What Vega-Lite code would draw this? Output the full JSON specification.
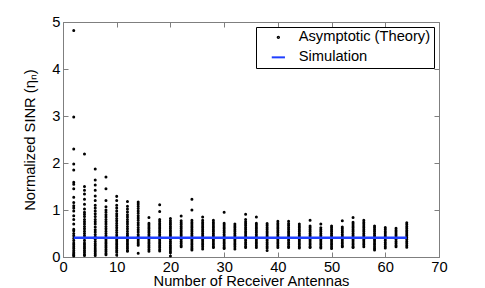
{
"$schema": "https://vega.github.io/schema/vega-lite/v6.json",
"width": 376, "height": 235,
"autosize": {"type": "none"},
"padding": {"left": 63, "top": 22, "right": 46, "bottom": 31},
"background": "white",
"config": {
 "font": "Liberation Sans",
 "view": {"stroke": "#7f7f7f", "strokeWidth": 1},
 "axis": {"grid": false, "domainColor": "#7f7f7f", "tickColor": "#7f7f7f", "tickSize": -5, "labelPadding": 8, "labelFontSize": 14.7, "labelColor": "black", "titleFontSize": 14.7, "titleFontWeight": "normal", "titleColor": "black", "labelFlush": false, "labelOverlap": false}
},
"datasets": {
 "theory": [
  {"n":2,"s":4.82},{"n":2,"s":2.98},{"n":2,"s":2.30},{"n":2,"s":1.98},{"n":2,"s":1.85},{"n":2,"s":1.59},{"n":2,"s":1.55},{"n":2,"s":1.45},{"n":2,"s":1.27},{"n":2,"s":1.16},{"n":2,"s":1.09},{"n":2,"s":1.04},{"n":2,"s":0.98},{"n":2,"s":0.88},{"n":2,"s":0.80},{"n":2,"s":0.70},{"n":2,"s":0.59},{"n":2,"s":0.56},{"n":2,"s":0.50},{"n":2,"s":0.45},{"n":2,"s":0.40},{"n":2,"s":0.35},{"n":2,"s":0.30},{"n":2,"s":0.26},{"n":2,"s":0.22},{"n":2,"s":0.18},{"n":2,"s":0.14},{"n":2,"s":0.10},{"n":2,"s":0.07},{"n":2,"s":0.04},{"n":2,"s":0.02},
  {"n":4,"s":2.19},{"n":4,"s":1.50},{"n":4,"s":1.42},{"n":4,"s":1.34},{"n":4,"s":1.23},{"n":4,"s":1.12},{"n":4,"s":1.02},{"n":4,"s":0.95},{"n":4,"s":0.91},{"n":4,"s":0.86},{"n":4,"s":0.80},{"n":4,"s":0.75},{"n":4,"s":0.70},{"n":4,"s":0.65},{"n":4,"s":0.60},{"n":4,"s":0.55},{"n":4,"s":0.50},{"n":4,"s":0.45},{"n":4,"s":0.40},{"n":4,"s":0.35},{"n":4,"s":0.30},{"n":4,"s":0.26},{"n":4,"s":0.22},{"n":4,"s":0.18},{"n":4,"s":0.14},{"n":4,"s":0.10},{"n":4,"s":0.06},{"n":4,"s":0.03},
  {"n":6,"s":1.87},{"n":6,"s":1.64},{"n":6,"s":1.53},{"n":6,"s":1.42},{"n":6,"s":1.30},{"n":6,"s":1.20},{"n":6,"s":1.10},{"n":6,"s":1.04},{"n":6,"s":0.98},{"n":6,"s":0.92},{"n":6,"s":0.86},{"n":6,"s":0.80},{"n":6,"s":0.75},{"n":6,"s":0.70},{"n":6,"s":0.64},{"n":6,"s":0.58},{"n":6,"s":0.53},{"n":6,"s":0.48},{"n":6,"s":0.43},{"n":6,"s":0.38},{"n":6,"s":0.33},{"n":6,"s":0.28},{"n":6,"s":0.24},{"n":6,"s":0.19},{"n":6,"s":0.15},{"n":6,"s":0.11},{"n":6,"s":0.07},{"n":6,"s":0.03},
  {"n":8,"s":1.70},{"n":8,"s":1.45},{"n":8,"s":1.20},{"n":8,"s":1.07},{"n":8,"s":1.00},{"n":8,"s":0.95},{"n":8,"s":0.90},{"n":8,"s":0.85},{"n":8,"s":0.80},{"n":8,"s":0.75},{"n":8,"s":0.70},{"n":8,"s":0.65},{"n":8,"s":0.60},{"n":8,"s":0.55},{"n":8,"s":0.50},{"n":8,"s":0.45},{"n":8,"s":0.40},{"n":8,"s":0.36},{"n":8,"s":0.32},{"n":8,"s":0.28},{"n":8,"s":0.24},{"n":8,"s":0.20},{"n":8,"s":0.16},{"n":8,"s":0.12},{"n":8,"s":0.08},{"n":8,"s":0.05},
  {"n":10,"s":1.29},{"n":10,"s":1.20},{"n":10,"s":1.10},{"n":10,"s":1.04},{"n":10,"s":0.98},{"n":10,"s":0.92},{"n":10,"s":0.87},{"n":10,"s":0.82},{"n":10,"s":0.77},{"n":10,"s":0.72},{"n":10,"s":0.67},{"n":10,"s":0.62},{"n":10,"s":0.57},{"n":10,"s":0.52},{"n":10,"s":0.47},{"n":10,"s":0.42},{"n":10,"s":0.38},{"n":10,"s":0.34},{"n":10,"s":0.30},{"n":10,"s":0.26},{"n":10,"s":0.22},{"n":10,"s":0.18},{"n":10,"s":0.14},{"n":10,"s":0.10},{"n":10,"s":0.04},
  {"n":12,"s":1.18},{"n":12,"s":1.08},{"n":12,"s":1.02},{"n":12,"s":0.96},{"n":12,"s":0.90},{"n":12,"s":0.85},{"n":12,"s":0.80},{"n":12,"s":0.75},{"n":12,"s":0.70},{"n":12,"s":0.65},{"n":12,"s":0.60},{"n":12,"s":0.55},{"n":12,"s":0.50},{"n":12,"s":0.46},{"n":12,"s":0.42},{"n":12,"s":0.38},{"n":12,"s":0.34},{"n":12,"s":0.30},{"n":12,"s":0.26},{"n":12,"s":0.22},{"n":12,"s":0.18},{"n":12,"s":0.14},{"n":12,"s":0.12},
  {"n":14,"s":1.17},{"n":14,"s":1.13},{"n":14,"s":1.08},{"n":14,"s":1.03},{"n":14,"s":0.98},{"n":14,"s":0.93},{"n":14,"s":0.88},{"n":14,"s":0.83},{"n":14,"s":0.78},{"n":14,"s":0.73},{"n":14,"s":0.68},{"n":14,"s":0.63},{"n":14,"s":0.58},{"n":14,"s":0.53},{"n":14,"s":0.48},{"n":14,"s":0.44},{"n":14,"s":0.40},{"n":14,"s":0.36},{"n":14,"s":0.32},{"n":14,"s":0.28},{"n":14,"s":0.25},{"n":14,"s":0.08},
  {"n":16,"s":0.84},{"n":16,"s":0.72},{"n":16,"s":0.68},{"n":16,"s":0.64},{"n":16,"s":0.60},{"n":16,"s":0.56},{"n":16,"s":0.52},{"n":16,"s":0.48},{"n":16,"s":0.44},{"n":16,"s":0.40},{"n":16,"s":0.36},{"n":16,"s":0.32},{"n":16,"s":0.28},{"n":16,"s":0.24},{"n":16,"s":0.20},{"n":16,"s":0.16},{"n":16,"s":0.12},
  {"n":18,"s":1.11},{"n":18,"s":0.97},{"n":18,"s":0.80},{"n":18,"s":0.76},{"n":18,"s":0.72},{"n":18,"s":0.68},{"n":18,"s":0.64},{"n":18,"s":0.60},{"n":18,"s":0.56},{"n":18,"s":0.52},{"n":18,"s":0.48},{"n":18,"s":0.44},{"n":18,"s":0.40},{"n":18,"s":0.36},{"n":18,"s":0.32},{"n":18,"s":0.28},{"n":18,"s":0.24},{"n":18,"s":0.20},{"n":18,"s":0.16},{"n":18,"s":0.13},
  {"n":20,"s":0.82},{"n":20,"s":0.77},{"n":20,"s":0.73},{"n":20,"s":0.69},{"n":20,"s":0.65},{"n":20,"s":0.61},{"n":20,"s":0.57},{"n":20,"s":0.53},{"n":20,"s":0.49},{"n":20,"s":0.45},{"n":20,"s":0.41},{"n":20,"s":0.37},{"n":20,"s":0.33},{"n":20,"s":0.29},{"n":20,"s":0.25},{"n":20,"s":0.21},{"n":20,"s":0.17},{"n":20,"s":0.13},{"n":20,"s":0.09},{"n":20,"s":0.02},
  {"n":22,"s":0.87},{"n":22,"s":0.77},{"n":22,"s":0.73},{"n":22,"s":0.69},{"n":22,"s":0.65},{"n":22,"s":0.61},{"n":22,"s":0.57},{"n":22,"s":0.53},{"n":22,"s":0.49},{"n":22,"s":0.45},{"n":22,"s":0.41},{"n":22,"s":0.37},{"n":22,"s":0.33},{"n":22,"s":0.29},{"n":22,"s":0.25},{"n":22,"s":0.22},
  {"n":24,"s":1.23},{"n":24,"s":1.00},{"n":24,"s":0.78},{"n":24,"s":0.74},{"n":24,"s":0.70},{"n":24,"s":0.66},{"n":24,"s":0.62},{"n":24,"s":0.58},{"n":24,"s":0.54},{"n":24,"s":0.50},{"n":24,"s":0.46},{"n":24,"s":0.42},{"n":24,"s":0.38},{"n":24,"s":0.34},{"n":24,"s":0.30},{"n":24,"s":0.26},{"n":24,"s":0.22},{"n":24,"s":0.18},{"n":24,"s":0.15},
  {"n":26,"s":0.85},{"n":26,"s":0.78},{"n":26,"s":0.74},{"n":26,"s":0.70},{"n":26,"s":0.66},{"n":26,"s":0.62},{"n":26,"s":0.58},{"n":26,"s":0.54},{"n":26,"s":0.50},{"n":26,"s":0.46},{"n":26,"s":0.42},{"n":26,"s":0.38},{"n":26,"s":0.34},{"n":26,"s":0.30},{"n":26,"s":0.26},{"n":26,"s":0.22},{"n":26,"s":0.17},
  {"n":28,"s":0.78},{"n":28,"s":0.74},{"n":28,"s":0.70},{"n":28,"s":0.66},{"n":28,"s":0.62},{"n":28,"s":0.58},{"n":28,"s":0.54},{"n":28,"s":0.50},{"n":28,"s":0.46},{"n":28,"s":0.42},{"n":28,"s":0.38},{"n":28,"s":0.34},{"n":28,"s":0.30},{"n":28,"s":0.26},{"n":28,"s":0.22},{"n":28,"s":0.20},
  {"n":30,"s":0.95},{"n":30,"s":0.72},{"n":30,"s":0.68},{"n":30,"s":0.64},{"n":30,"s":0.60},{"n":30,"s":0.56},{"n":30,"s":0.52},{"n":30,"s":0.48},{"n":30,"s":0.44},{"n":30,"s":0.40},{"n":30,"s":0.36},{"n":30,"s":0.32},{"n":30,"s":0.28},{"n":30,"s":0.24},{"n":30,"s":0.20},{"n":30,"s":0.18},
  {"n":32,"s":0.70},{"n":32,"s":0.66},{"n":32,"s":0.62},{"n":32,"s":0.58},{"n":32,"s":0.54},{"n":32,"s":0.50},{"n":32,"s":0.46},{"n":32,"s":0.42},{"n":32,"s":0.38},{"n":32,"s":0.34},{"n":32,"s":0.30},{"n":32,"s":0.26},{"n":32,"s":0.22},{"n":32,"s":0.17},
  {"n":34,"s":0.91},{"n":34,"s":0.80},{"n":34,"s":0.75},{"n":34,"s":0.71},{"n":34,"s":0.67},{"n":34,"s":0.63},{"n":34,"s":0.59},{"n":34,"s":0.55},{"n":34,"s":0.51},{"n":34,"s":0.47},{"n":34,"s":0.43},{"n":34,"s":0.39},{"n":34,"s":0.35},{"n":34,"s":0.31},{"n":34,"s":0.27},{"n":34,"s":0.23},{"n":34,"s":0.20},
  {"n":36,"s":0.85},{"n":36,"s":0.72},{"n":36,"s":0.68},{"n":36,"s":0.64},{"n":36,"s":0.60},{"n":36,"s":0.56},{"n":36,"s":0.52},{"n":36,"s":0.48},{"n":36,"s":0.44},{"n":36,"s":0.40},{"n":36,"s":0.36},{"n":36,"s":0.32},{"n":36,"s":0.28},{"n":36,"s":0.24},{"n":36,"s":0.20},
  {"n":38,"s":0.71},{"n":38,"s":0.67},{"n":38,"s":0.63},{"n":38,"s":0.59},{"n":38,"s":0.55},{"n":38,"s":0.51},{"n":38,"s":0.47},{"n":38,"s":0.43},{"n":38,"s":0.39},{"n":38,"s":0.35},{"n":38,"s":0.31},{"n":38,"s":0.27},{"n":38,"s":0.23},{"n":38,"s":0.19},{"n":38,"s":0.14},
  {"n":40,"s":0.76},{"n":40,"s":0.72},{"n":40,"s":0.68},{"n":40,"s":0.64},{"n":40,"s":0.60},{"n":40,"s":0.56},{"n":40,"s":0.52},{"n":40,"s":0.48},{"n":40,"s":0.44},{"n":40,"s":0.40},{"n":40,"s":0.36},{"n":40,"s":0.32},{"n":40,"s":0.28},{"n":40,"s":0.24},{"n":40,"s":0.20},
  {"n":42,"s":0.76},{"n":42,"s":0.71},{"n":42,"s":0.67},{"n":42,"s":0.63},{"n":42,"s":0.59},{"n":42,"s":0.55},{"n":42,"s":0.51},{"n":42,"s":0.47},{"n":42,"s":0.43},{"n":42,"s":0.39},{"n":42,"s":0.35},{"n":42,"s":0.31},{"n":42,"s":0.27},{"n":42,"s":0.23},{"n":42,"s":0.20},
  {"n":44,"s":0.70},{"n":44,"s":0.66},{"n":44,"s":0.62},{"n":44,"s":0.58},{"n":44,"s":0.54},{"n":44,"s":0.50},{"n":44,"s":0.46},{"n":44,"s":0.42},{"n":44,"s":0.38},{"n":44,"s":0.34},{"n":44,"s":0.30},{"n":44,"s":0.26},{"n":44,"s":0.22},{"n":44,"s":0.19},
  {"n":46,"s":0.78},{"n":46,"s":0.66},{"n":46,"s":0.62},{"n":46,"s":0.58},{"n":46,"s":0.54},{"n":46,"s":0.50},{"n":46,"s":0.46},{"n":46,"s":0.42},{"n":46,"s":0.38},{"n":46,"s":0.34},{"n":46,"s":0.30},{"n":46,"s":0.26},{"n":46,"s":0.22},{"n":46,"s":0.20},
  {"n":48,"s":0.70},{"n":48,"s":0.62},{"n":48,"s":0.58},{"n":48,"s":0.54},{"n":48,"s":0.50},{"n":48,"s":0.46},{"n":48,"s":0.42},{"n":48,"s":0.38},{"n":48,"s":0.34},{"n":48,"s":0.30},{"n":48,"s":0.26},{"n":48,"s":0.22},{"n":48,"s":0.19},
  {"n":50,"s":0.66},{"n":50,"s":0.62},{"n":50,"s":0.58},{"n":50,"s":0.54},{"n":50,"s":0.50},{"n":50,"s":0.46},{"n":50,"s":0.42},{"n":50,"s":0.38},{"n":50,"s":0.34},{"n":50,"s":0.30},{"n":50,"s":0.26},{"n":50,"s":0.22},{"n":50,"s":0.18},
  {"n":52,"s":0.77},{"n":52,"s":0.64},{"n":52,"s":0.60},{"n":52,"s":0.56},{"n":52,"s":0.52},{"n":52,"s":0.48},{"n":52,"s":0.44},{"n":52,"s":0.40},{"n":52,"s":0.36},{"n":52,"s":0.32},{"n":52,"s":0.28},{"n":52,"s":0.24},{"n":52,"s":0.22},
  {"n":54,"s":0.84},{"n":54,"s":0.74},{"n":54,"s":0.70},{"n":54,"s":0.66},{"n":54,"s":0.62},{"n":54,"s":0.58},{"n":54,"s":0.54},{"n":54,"s":0.50},{"n":54,"s":0.46},{"n":54,"s":0.42},{"n":54,"s":0.38},{"n":54,"s":0.34},{"n":54,"s":0.30},{"n":54,"s":0.26},{"n":54,"s":0.22},{"n":54,"s":0.20},
  {"n":56,"s":0.78},{"n":56,"s":0.74},{"n":56,"s":0.70},{"n":56,"s":0.66},{"n":56,"s":0.62},{"n":56,"s":0.58},{"n":56,"s":0.54},{"n":56,"s":0.50},{"n":56,"s":0.46},{"n":56,"s":0.42},{"n":56,"s":0.38},{"n":56,"s":0.34},{"n":56,"s":0.30},{"n":56,"s":0.26},{"n":56,"s":0.22},
  {"n":58,"s":0.66},{"n":58,"s":0.62},{"n":58,"s":0.58},{"n":58,"s":0.54},{"n":58,"s":0.50},{"n":58,"s":0.46},{"n":58,"s":0.42},{"n":58,"s":0.38},{"n":58,"s":0.34},{"n":58,"s":0.30},{"n":58,"s":0.26},{"n":58,"s":0.22},{"n":58,"s":0.18},{"n":58,"s":0.15},
  {"n":60,"s":0.63},{"n":60,"s":0.59},{"n":60,"s":0.55},{"n":60,"s":0.51},{"n":60,"s":0.47},{"n":60,"s":0.43},{"n":60,"s":0.39},{"n":60,"s":0.35},{"n":60,"s":0.31},{"n":60,"s":0.27},{"n":60,"s":0.23},{"n":60,"s":0.19},
  {"n":62,"s":0.61},{"n":62,"s":0.57},{"n":62,"s":0.53},{"n":62,"s":0.49},{"n":62,"s":0.45},{"n":62,"s":0.41},{"n":62,"s":0.37},{"n":62,"s":0.33},{"n":62,"s":0.29},{"n":62,"s":0.25},{"n":62,"s":0.22},
  {"n":64,"s":0.73},{"n":64,"s":0.69},{"n":64,"s":0.65},{"n":64,"s":0.61},{"n":64,"s":0.57},{"n":64,"s":0.53},{"n":64,"s":0.49},{"n":64,"s":0.45},{"n":64,"s":0.41},{"n":64,"s":0.37},{"n":64,"s":0.33},{"n":64,"s":0.29},{"n":64,"s":0.25},{"n":64,"s":0.21}
 ],
 "sim": [
  {"n":2,"s":0.41},{"n":4,"s":0.41},{"n":6,"s":0.41},{"n":8,"s":0.41},{"n":10,"s":0.41},{"n":12,"s":0.41},{"n":14,"s":0.41},{"n":16,"s":0.41},{"n":18,"s":0.41},{"n":20,"s":0.41},{"n":22,"s":0.41},{"n":24,"s":0.41},{"n":26,"s":0.41},{"n":28,"s":0.41},{"n":30,"s":0.41},{"n":32,"s":0.41},{"n":34,"s":0.41},{"n":36,"s":0.41},{"n":38,"s":0.41},{"n":40,"s":0.41},{"n":42,"s":0.41},{"n":44,"s":0.41},{"n":46,"s":0.41},{"n":48,"s":0.41},{"n":50,"s":0.41},{"n":52,"s":0.41},{"n":54,"s":0.41},{"n":56,"s":0.41},{"n":58,"s":0.41},{"n":60,"s":0.41},{"n":62,"s":0.41},{"n":64,"s":0.41}
 ]
},
"layer": [
 {
  "data": {"name": "theory"},
  "mark": {"type": "point", "filled": false, "strokeWidth": 1.6, "opacity": 1},
  "encoding": {
   "x": {"field": "n", "type": "quantitative", "scale": {"domain": [0, 70], "nice": false, "zero": false}, "axis": {"values": [0,10,20,30,40,50,60,70], "title": "Number of Receiver Antennas", "titlePadding": 0, "labelPadding": 7}},
   "y": {"field": "s", "type": "quantitative", "scale": {"domain": [0, 5], "nice": false}, "axis": {"values": [0,1,2,3,4,5], "title": "Normalized SINR (ηₙ)", "titlePadding": 14}},
   "color": {"datum": "Asymptotic (Theory)", "type": "nominal", "scale": {"domain": ["Asymptotic (Theory)", "Simulation"], "range": ["black", "#1f3fff"]},
    "legend": {"orient": "top-right", "offset": 5, "title": null, "labelFontSize": 14.7, "labelColor": "black", "strokeColor": "black", "fillColor": "white", "padding": 3, "symbolStrokeWidth": 2, "rowPadding": 4, "symbolOffset": 12, "labelOffset": 13, "cornerRadius": 0}},
   "shape": {"datum": "Asymptotic (Theory)", "type": "nominal", "scale": {"domain": ["Asymptotic (Theory)", "Simulation"], "range": ["circle", "M-2.2,0H2.2"]},
    "legend": {"orient": "top-right", "offset": 5, "title": null, "labelFontSize": 14.7, "labelColor": "black", "strokeColor": "black", "fillColor": "white", "padding": 3, "symbolStrokeWidth": 2, "rowPadding": 4, "symbolOffset": 12, "labelOffset": 13, "cornerRadius": 0}},
   "size": {"datum": "Asymptotic (Theory)", "type": "nominal", "scale": {"domain": ["Asymptotic (Theory)", "Simulation"], "range": [2, 36]},
    "legend": {"orient": "top-right", "offset": 5, "title": null, "labelFontSize": 14.7, "labelColor": "black", "strokeColor": "black", "fillColor": "white", "padding": 3, "symbolStrokeWidth": 2, "rowPadding": 4, "symbolOffset": 12, "labelOffset": 13, "cornerRadius": 0}}
  }
 },
 {
  "data": {"name": "sim"},
  "mark": {"type": "line", "strokeWidth": 2.5},
  "encoding": {
   "x": {"field": "n", "type": "quantitative", "axis": {"values": [0,10,20,30,40,50,60,70], "labels": false, "title": null, "domain": false, "orient": "top"}},
   "y": {"field": "s", "type": "quantitative", "axis": {"values": [0,1,2,3,4,5], "labels": false, "title": null, "domain": false, "orient": "right"}},
   "color": {"datum": "Simulation", "type": "nominal", "legend": null}
  }
 }
],
"resolve": {"axis": {"x": "independent", "y": "independent"}}
}
